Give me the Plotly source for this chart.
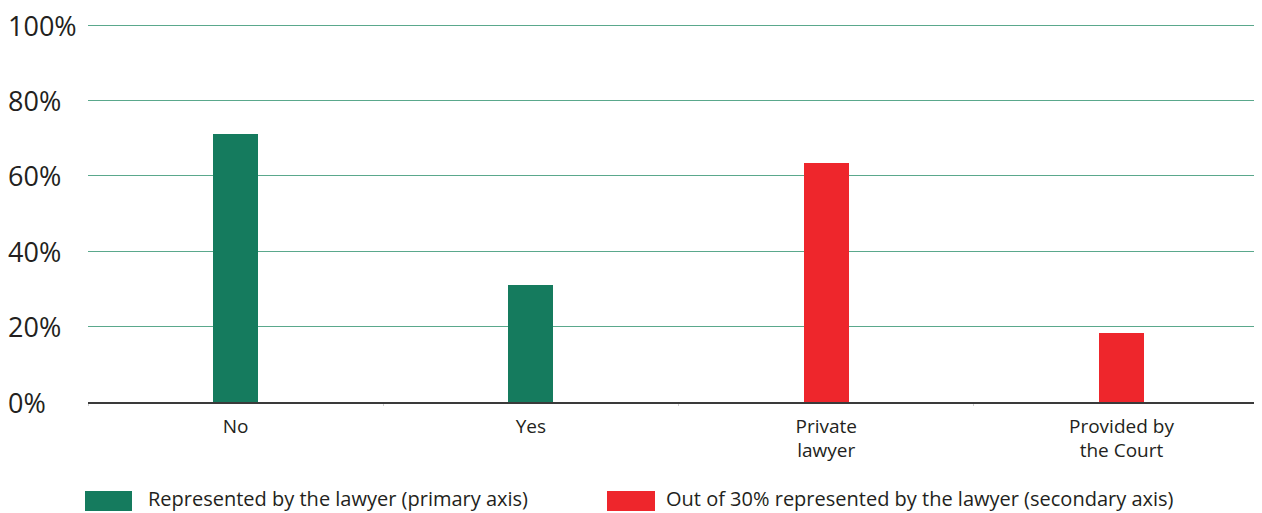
import plotly.graph_objects as go

categories = ["No", "Yes", "Private<br>lawyer", "Provided by<br>the Court"]
primary_cats = ["No", "Yes"]
primary_vals = [71, 31]
secondary_cats = ["Private<br>lawyer", "Provided by<br>the Court"]
secondary_vals = [63.5, 18.2]
y_ticks = [0, 20, 40, 60, 80, 100]
y_tick_labels = ["0%", "20%", "40%", "60%", "80%", "100%"]
series_names = ["Represented by the lawyer (primary axis)",
                "Out of 30% represented by the lawyer (secondary axis)"]
GREEN = "#157b5e"
RED = "#ee262c"
TXT = "#231f20"
FONT = "Open Sans"

# page has an 8px body margin; figure coords = page coords - 8
OFF = 8
L, T, PB = 88 - OFF, 24 - OFF, 402 - OFF
W, H = 1262 - OFF, 513 - OFF
PW, PH = W - L, PB - T

fig = go.Figure()
fig.add_trace(go.Bar(x=primary_cats, y=primary_vals, name=series_names[0],
                     marker=dict(color=GREEN, line=dict(width=0)), width=0.152,
                     showlegend=False))
fig.add_trace(go.Bar(x=secondary_cats, y=secondary_vals, name=series_names[1],
                     marker=dict(color=RED, line=dict(width=0)), width=0.152,
                     showlegend=False))

fig.update_layout(
    width=W, height=H,
    margin=dict(l=L, r=0, t=T, b=H - PB),
    paper_bgcolor="white", plot_bgcolor="white",
    font=dict(family=FONT, color=TXT),
    bargap=0,
    xaxis=dict(categoryorder="array", categoryarray=categories,
               range=[-0.5, 3.476], showgrid=False, zeroline=False,
               showline=True, linecolor="#3a3a3a", linewidth=1.5,
               ticks="outside", ticklen=2, tickcolor="#d0d0d0", tickson="boundaries",
               ticklabelstandoff=6,
               tickfont=dict(size=19, color=TXT, family=FONT)),
    yaxis=dict(range=[0, 100.3], tickvals=y_ticks, showticklabels=False,
               showgrid=True, gridcolor="#5aa88c", gridwidth=1,
               zeroline=False, showline=False, fixedrange=True),
)

for v, lab in zip(y_ticks, y_tick_labels):
    fig.add_annotation(x=0, xref="paper", xshift=-82, y=v, yref="y",
                       text=lab, showarrow=False, xanchor="left", yanchor="middle",
                       font=dict(size=27, color=TXT, family=FONT))

# legend drawn as swatches + labels (page pixel positions)
legend_items = [(series_names[0], GREEN, 85, 132, 146),
                (series_names[1], RED, 607, 655, 664)]
for name, col, x0, x1, tx in legend_items:
    fig.add_shape(type="rect", xref="paper", yref="paper",
                  x0=(x0 - 88) / PW, x1=(x1 - 88) / PW,
                  y0=-(511 - 402) / PH, y1=-(491 - 402) / PH,
                  fillcolor=col, line=dict(width=0))
    fig.add_annotation(x=(tx - 88) / PW, xref="paper", y=-(498 - 402) / PH, yref="paper",
                       text=name, showarrow=False, xanchor="left", yanchor="middle",
                       font=dict(size=20, color=TXT, family=FONT))

fig.write_html("out.html")
